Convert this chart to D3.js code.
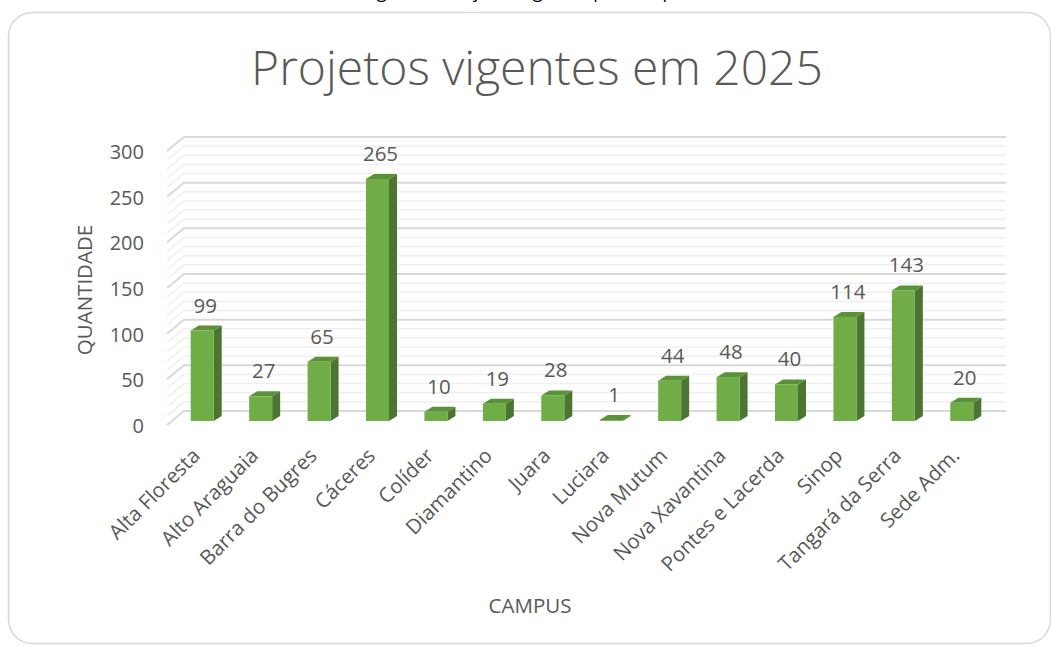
<!DOCTYPE html>
<html>
<head>
<meta charset="utf-8">
<script src="https://cdn.jsdelivr.net/npm/d3@7"></script>
<style>
  body { margin: 0; background: #fff; }
  text { font-family: "Open Sans", "Noto Sans", sans-serif; fill: #595959; }
</style>
</head>
<body>
<div id="chart"></div>
<script>
// data
var campus = ["Alta Floresta", "Alto Araguaia", "Barra do Bugres", "Cáceres", "Colíder",
    "Diamantino", "Juara", "Luciara", "Nova Mutum", "Nova Xavantina", "Pontes e Lacerda",
    "Sinop", "Tangará da Serra", "Sede Adm."];
var projetos = [99, 27, 65, 265, 10, 19, 28, 1, 44, 48, 40, 114, 143, 20];
var yTicks = [0, 50, 100, 150, 200, 250, 300];
var minorTicks = d3.range(0, 301, 10);

function init() {
    var w = 1051;
    var h = 646;

    var svg = d3.select("#chart")
        .append("svg")
        .attr("width", w)
        .attr("height", h);

    // caption of the document, cut off above the chart (only descenders show)
    svg.append("text")
        .attr("x", 528)
        .attr("y", -2)
        .attr("text-anchor", "middle")
        .style("font-size", "18px")
        .style("fill", "#000")
        .text("Figura 1 - Projetos vigentes por campus");

    // chart card
    svg.append("rect")
        .attr("x", 8.5)
        .attr("y", 12.5)
        .attr("width", 1042)
        .attr("height", 631)
        .attr("rx", 24)
        .attr("fill", "#fff")
        .attr("stroke", "#d9d9d9")
        .attr("stroke-width", 1.5);

    // 3d planes: front edge, back wall, bars in between
    var frontX = 167, frontY = 425;
    var backX = 184, backY = 411, backRight = 1006;
    var barY = 421, depthX = 8, depthY = 5;

    var yScale = d3.scaleLinear().domain([0, 300]).range([0, -274]);

    var xScale = d3.scaleBand()
        .domain(campus)
        .range([173, 991])
        .padding(0);
    var barW = 23;

    // grid lines (side wall + back wall)
    var grid = svg.append("g");
    minorTicks.forEach(function(v) {
        var major = v % 50 === 0;
        grid.append("path")
            .attr("d", "M" + frontX + "," + (frontY + yScale(v)) +
                " L" + backX + "," + (backY + yScale(v)) +
                " L" + backRight + "," + (backY + yScale(v)))
            .attr("fill", "none")
            .attr("stroke", major ? "#d9d9d9" : "#efefef")
            .attr("stroke-width", major ? 2 : 1.5);
    });

    // y axis labels
    var yFront = d3.scaleLinear().domain([0, 300]).range([frontY, frontY - 274]);
    var yAxis = d3.axisLeft(yFront).tickValues(yTicks).tickSize(0).tickPadding(0);
    var ya = svg.append("g")
        .attr("transform", "translate(144,1)")
        .call(yAxis);
    ya.select(".domain").remove();
    ya.selectAll("text")
        .style("font-size", "20px")
        .style("font-family", "'Open Sans', sans-serif")
        .attr("fill", "#595959");

    // bars
    var bars = svg.append("g").selectAll("g")
        .data(projetos)
        .enter()
        .append("g");

    function bx(d, i) { return xScale(campus[i]) + (xScale.bandwidth() - barW) / 2; }
    function by(d) { return barY + yScale(d); }

    // side
    bars.append("path")
        .attr("d", function(d, i) {
            var x = bx(d, i) + barW, y = by(d);
            return "M" + x + "," + y + " L" + (x + depthX) + "," + (y - depthY) +
                " L" + (x + depthX) + "," + (barY - depthY) + " L" + x + "," + barY + "Z";
        })
        .attr("fill", "#4b7530");
    // top
    bars.append("path")
        .attr("d", function(d, i) {
            var x = bx(d, i), y = by(d);
            return "M" + x + "," + y + " L" + (x + depthX) + "," + (y - depthY) +
                " L" + (x + barW + depthX) + "," + (y - depthY) + " L" + (x + barW) + "," + y + "Z";
        })
        .attr("fill", "#5b9237");
    // front
    bars.append("rect")
        .attr("x", bx)
        .attr("y", by)
        .attr("width", barW)
        .attr("height", function(d) { return barY - by(d); })
        .attr("fill", "#70ad47");

    // value labels
    bars.append("text")
        .attr("x", function(d, i) { return bx(d, i) + barW / 2 + 3; })
        .attr("y", function(d) { return by(d) - depthY - 13; })
        .attr("text-anchor", "middle")
        .style("font-size", "20.5px")
        .text(function(d) { return d; });

    // category labels
    svg.append("g").selectAll("text")
        .data(campus)
        .enter()
        .append("text")
        .attr("text-anchor", "end")
        .attr("transform", function(d) {
            return "translate(" + (xScale(d) + xScale.bandwidth() / 2 - 1) + ",457) rotate(-45)";
        })
        .style("font-size", "20.5px")
        .text(function(d) { return d; });

    // titles
    svg.append("text")
        .attr("x", 537)
        .attr("y", 85)
        .attr("text-anchor", "middle")
        .style("font-size", "48px")
        .style("font-weight", 300)
        .text("Projetos vigentes em 2025");

    svg.append("text")
        .attr("transform", "translate(92,290) rotate(-90)")
        .attr("text-anchor", "middle")
        .style("font-size", "20.5px")
        .text("QUANTIDADE");

    svg.append("text")
        .attr("x", 530)
        .attr("y", 613)
        .attr("text-anchor", "middle")
        .style("font-size", "20.5px")
        .text("CAMPUS");
}
window.onload = init;
</script>
</body>
</html>
